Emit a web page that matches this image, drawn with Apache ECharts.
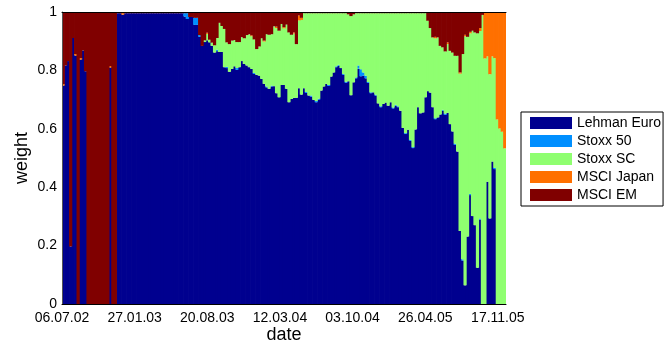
<!DOCTYPE html>
<html>
<head>
<meta charset="utf-8">
<script src="https://cdn.jsdelivr.net/npm/echarts@6/dist/echarts.min.js"></script>
<style>
  html, body { margin: 0; padding: 0; background: #fff; }
  #chart { width: 664px; height: 345px; }
</style>
</head>
<body>
<div id="chart"></div>
<script>
// Weekly portfolio weights, one value per week starting 06.07.02
const lehmanEuro = [
  0.748,0.817,0.832,0.197,0.911,0.851,0,0.837,0.868,0.797,
  0,0,0,0,0,0,0,0,0,0.81,
  0,0,0.996,0.996,0.991,0.996,0.996,0.996,0.996,0.996,
  0.996,0.996,0.996,0.996,0.996,0.996,0.996,0.996,0.996,0.996,
  0.996,0.996,0.996,0.996,0.996,0.996,0.996,0.996,0.996,0.985,
  0.976,0.983,0.983,0.956,0.956,0.915,0.884,0.897,0.903,0.896,
  0.884,0.861,0.866,0.863,0.863,0.811,0.808,0.795,0.805,0.814,
  0.802,0.811,0.832,0.822,0.817,0.811,0.805,0.788,0.785,0.782,
  0.771,0.754,0.742,0.737,0.745,0.746,0.722,0.708,0.75,0.75,
  0.737,0.691,0.702,0.706,0.706,0.739,0.717,0.739,0.723,0.714,
  0.71,0.699,0.691,0.7,0.731,0.745,0.754,0.747,0.779,0.793,
  0.811,0.816,0.808,0.785,0.758,0.763,0.715,0.759,0.773,0.806,
  0.78,0.782,0.773,0.757,0.722,0.725,0.714,0.687,0.674,0.685,
  0.69,0.679,0.691,0.67,0.679,0.674,0.662,0.603,0.582,0.597,
  0.559,0.534,0.598,0.674,0.653,0.656,0.708,0.729,0.724,0.674,
  0.633,0.639,0.649,0.662,0.648,0.655,0.616,0.591,0.545,0.522,
  0.25,0.149,0.064,0.231,0.373,0.301,0.27,0.124,0.289,0,
  0,0.419,0.293,0.488,0.462,0,0,0,0
];
const stoxx50 = [
  0,0,0,0,0,0,0,0,0,0,
  0,0,0,0,0,0,0,0,0,0,
  0,0,0,0,0,0,0,0,0,0,
  0,0,0,0,0,0,0,0,0,0,
  0,0,0,0,0,0,0,0,0,0.011,
  0.02,0,0,0.024,0.024,0.006,0,0,0,0,
  0,0,0.005,0,0,0,0.004,0,0,0,
  0.006,0,0,0,0,0,0,0.003,0,0,
  0,0,0.003,0,0.003,0,0,0,0,0,
  0,0,0,0,0,0,0,0,0.003,0,
  0.004,0,0.004,0.003,0,0,0,0.003,0,0,
  0.003,0.003,0,0.003,0.003,0,0,0,0.003,0.011,
  0.024,0.011,0.009,0.003,0.003,0,0.003,0,0.003,0,
  0,0,0,0.003,0.003,0.003,0,0,0.003,0,
  0.003,0.003,0,0,0,0,0,0,0,0,
  0.003,0,0,0.003,0.004,0,0,0,0.004,0,
  0,0.004,0,0,0.004,0,0,0,0.004,0,
  0,0,0,0,0.004,0,0,0,0
];
const stoxxSC = [
  0,0,0,0,0,0,0,0,0,0,
  0,0,0,0,0,0,0,0,0,0,
  0,0,0,0,0,0,0,0,0,0,
  0,0,0,0,0,0,0,0,0,0,
  0,0,0,0,0,0,0,0,0,0,
  0,0,0,0,0,0,0,0.006,0.022,0.009,
  0.011,0.025,0.04,0.1,0.089,0.131,0.084,0.095,0.097,0.09,
  0.089,0.086,0.082,0.088,0.104,0.113,0.112,0.115,0.088,0.1,
  0.139,0.145,0.179,0.185,0.176,0.205,0.223,0.228,0.209,0.194,
  0.22,0.239,0.22,0.22,0.184,0.232,0.256,0.257,0.27,0.282,
  0.282,0.297,0.301,0.293,0.265,0.251,0.242,0.246,0.217,0.203,
  0.182,0.177,0.188,0.208,0.235,0.229,0.271,0.233,0.22,0.179,
  0.192,0.203,0.214,0.236,0.271,0.271,0.279,0.309,0.319,0.311,
  0.306,0.317,0.305,0.323,0.314,0.319,0.334,0.393,0.411,0.399,
  0.434,0.459,0.398,0.322,0.343,0.34,0.288,0.241,0.221,0.239,
  0.274,0.274,0.235,0.214,0.213,0.235,0.251,0.27,0.301,0.328,
  0.539,0.703,0.853,0.684,0.55,0.635,0.66,0.803,0.642,0.99,
  0.841,0.429,0.494,0.36,0.376,0.632,0.601,0.59,0.533
];
const msciJapan = [
  0.005,0,0,0,0,0.005,0,0.005,0,0,
  0,0,0,0,0,0,0,0,0,0.005,
  0,0,0,0,0.005,0,0,0,0,0,
  0,0,0,0,0,0,0,0,0,0,
  0,0,0,0,0,0,0,0,0,0,
  0,0,0,0,0,0,0,0,0.004,0,
  0,0,0,0,0,0,0,0,0,0,
  0,0,0,0,0,0,0.003,0,0,0,
  0,0.003,0,0,0,0,0.005,0,0,0.004,
  0,0,0,0.004,0,0.017,0.007,0,0,0,
  0,0,0,0,0,0,0,0,0,0,
  0,0,0,0,0,0,0,0,0,0,
  0,0,0,0,0,0,0,0,0,0,
  0,0,0,0,0,0,0,0,0,0,
  0,0,0,0,0,0,0,0,0,0,
  0.005,0,0,0,0,0.006,0,0,0,0,
  0.004,0,0.005,0,0.005,0,0,0,0.01,0,
  0.156,0.149,0.21,0.149,0.155,0.365,0.396,0.407,0.464
];
const msciEM = [
  0.247,0.183,0.168,0.803,0.089,0.144,1,0.158,0.132,0.203,
  1,1,1,1,1,1,1,1,1,0.185,
  1,1,0.004,0.004,0.004,0.004,0.004,0.004,0.004,0.004,
  0.004,0.004,0.004,0.004,0.004,0.004,0.004,0.004,0.004,0.004,
  0.004,0.004,0.004,0.004,0.004,0.004,0.004,0.004,0.004,0.004,
  0.004,0.017,0.017,0.02,0.02,0.079,0.116,0.097,0.071,0.095,
  0.105,0.114,0.089,0.037,0.048,0.058,0.104,0.11,0.098,0.096,
  0.103,0.103,0.086,0.09,0.079,0.076,0.08,0.094,0.127,0.118,
  0.09,0.098,0.076,0.078,0.076,0.049,0.05,0.064,0.041,0.052,
  0.043,0.07,0.078,0.07,0.11,0.012,0.02,0.004,0.004,0.004,
  0.004,0.004,0.004,0.004,0.004,0.004,0.004,0.004,0.004,0.004,
  0.004,0.004,0.004,0.004,0.004,0.008,0.014,0.008,0.004,0.004,
  0.004,0.004,0.004,0.004,0.004,0.004,0.004,0.004,0.004,0.004,
  0.004,0.004,0.004,0.004,0.004,0.004,0.004,0.004,0.004,0.004,
  0.004,0.004,0.004,0.004,0.004,0.004,0.004,0.03,0.055,0.087,
  0.085,0.087,0.116,0.121,0.135,0.104,0.133,0.139,0.15,0.15,
  0.207,0.144,0.078,0.085,0.068,0.064,0.07,0.073,0.055,0.01,
  0.003,0.003,0.003,0.003,0.003,0.003,0.003,0.003,0.003
];

const seriesNames = ['Lehman Euro', 'Stoxx 50', 'Stoxx SC', 'MSCI Japan', 'MSCI EM'];
const seriesValues = [lehmanEuro, stoxx50, stoxxSC, msciJapan, msciEM];
const seriesColors = ['#00008F', '#008FFF', '#8FFF70', '#FF7000', '#800000'];

// Date tick labels, one every 205 days from 06.07.02
const tickLabels = ['06.07.02', '27.01.03', '20.08.03', '12.03.04', '03.10.04', '26.04.05', '17.11.05'];
const TICK_DAYS = 205;
const WEEK_DAYS = 7;

const FONT = '"Liberation Sans", Arial, Helvetica, sans-serif';
const weeks = lehmanEuro.map((_, i) => String(i));
const spanDays = weeks.length * WEEK_DAYS;

const chart = echarts.init(document.getElementById('chart'), null, { renderer: 'canvas' });
chart.setOption({
  animation: false,
  textStyle: { fontFamily: FONT },
  grid: { left: 62, right: 158, top: 12, bottom: 41, containLabel: false, outerBoundsMode: 'none' },
  legend: {
    orient: 'vertical',
    left: 521, top: 112,
    icon: 'rect',
    itemWidth: 42, itemHeight: 12, itemGap: 4,
    padding: [4, 2, 4, 9],
    borderColor: '#000', borderWidth: 1,
    selectedMode: false,
    textStyle: { fontSize: 14, fontFamily: FONT, color: '#000', lineHeight: 14 },
    data: seriesNames
  },
  xAxis: [{
    // one band per week; carries the bars
    type: 'category', data: weeks, position: 'bottom', z: 3,
    boundaryGap: true,
    axisLine: { show: true, lineStyle: { color: '#000', width: 1 } },
    axisTick: { show: false }, axisLabel: { show: false }, splitLine: { show: false }
  }, {
    // calendar scale in days from 06.07.02; carries the date labels
    type: 'value', position: 'bottom', min: 0, max: spanDays, interval: TICK_DAYS, z: 3,
    axisLine: { show: false },
    axisTick: { show: false },
    splitLine: { show: false },
    axisLabel: {
      fontSize: 14, color: '#000', fontFamily: FONT, margin: 7,
      showMaxLabel: false,
      formatter: v => (v % TICK_DAYS === 0 ? tickLabels[v / TICK_DAYS] || '' : '')
    },
    name: 'date', nameLocation: 'middle', nameGap: 22, nameMoveOverlap: false,
    nameTextStyle: { fontSize: 18, color: '#000', fontFamily: FONT }
  }, {
    type: 'value', position: 'top', min: 0, max: spanDays, z: 3,
    axisLine: { show: true, lineStyle: { color: '#000', width: 1 } },
    axisTick: { show: false }, axisLabel: { show: false }, splitLine: { show: false }
  }],
  yAxis: {
    type: 'value', min: 0, max: 1, interval: 0.2, z: 3,
    axisLine: { show: true, lineStyle: { color: '#555', width: 1 } },
    axisTick: { show: false },
    splitLine: { show: false },
    axisLabel: { fontSize: 14, color: '#000', fontFamily: FONT, margin: 5 },
    name: 'weight', nameLocation: 'middle', nameGap: 31, nameMoveOverlap: false,
    nameTextStyle: { fontSize: 18, color: '#000', fontFamily: FONT }
  },
  series: seriesValues.map((values, k) => ({
    name: seriesNames[k],
    type: 'bar',
    xAxisIndex: 0,
    stack: 'weights',
    barWidth: '130%',
    itemStyle: { color: seriesColors[k] },
    emphasis: { disabled: true },
    data: values
  }))
});
</script>
</body>
</html>
